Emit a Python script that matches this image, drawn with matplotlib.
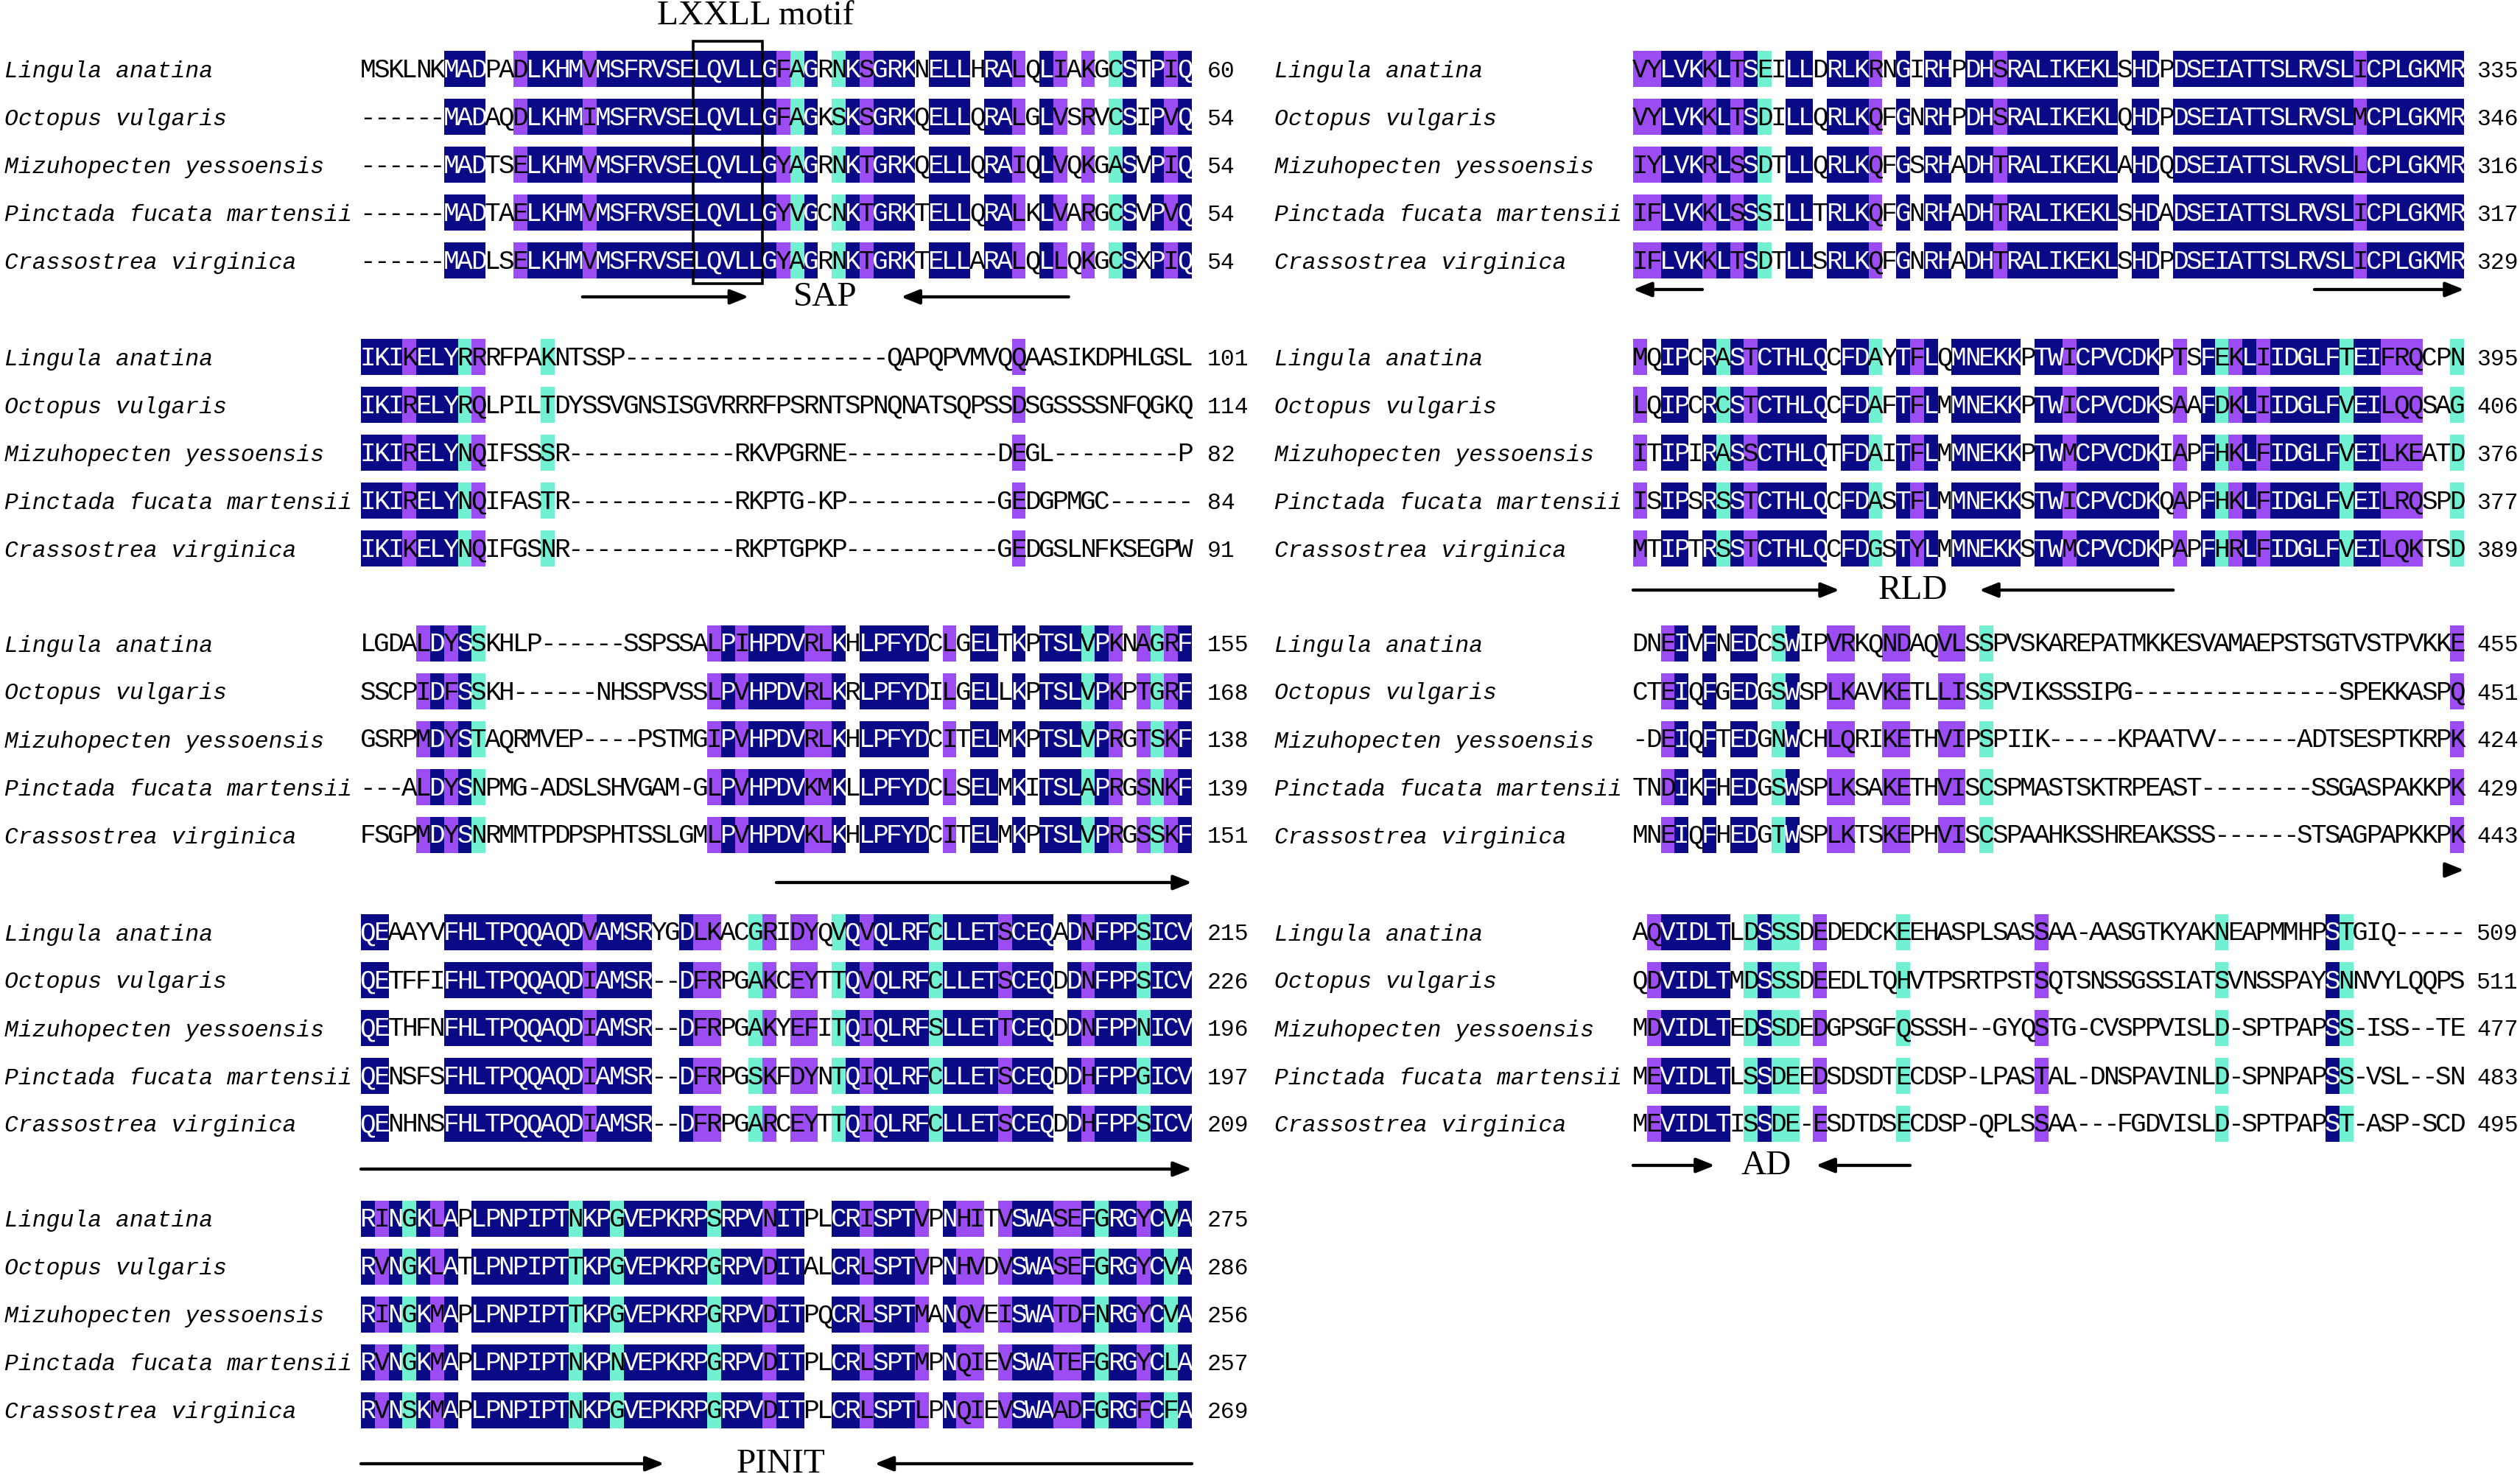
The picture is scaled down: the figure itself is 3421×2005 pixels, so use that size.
import matplotlib
matplotlib.use('Agg')
import matplotlib.pyplot as plt
from matplotlib.patches import Rectangle

names = ['Lingula anatina', 'Octopus vulgaris', 'Mizuhopecten yessoensis',
         'Pinctada fucata martensii', 'Crassostrea virginica']

# shading codes per column: N = identical, P = high homology, C = medium, . = none
seq_1 = ['MSKLNKMADPADLKHMVMSFRVSELQVLLGFAGRNKSGRKNELLHRALQLIAKGCSTPIQ',
         '------MADAQDLKHMIMSFRVSELQVLLGFAGKSKSGRKQELLQRALGLVSRVCSIPVQ',
         '------MADTSELKHMVMSFRVSELQVLLGYAGRNKTGRKQELLQRAIQLVQKGASVPIQ',
         '------MADTAELKHMVMSFRVSELQVLLGYVGCNKTGRKTELLQRALKLVARGCSVPVQ',
         '------MADLSELKHMVMSFRVSELQVLLGYAGRNKTGRKTELLARALQLLQKGCSXPIQ']
end_1 = [60, 54, 54, 54, 54]
shade_1 = '......NNN..PNNNNP' 'NNNNNNNNNNNNN' 'PCN.CNPNNN.NNN.NNP.NP.P.CN.NPN'

seq_2 = ['IKIKELYRRRFPAKNTSSP' + '-' * 19 + 'QAPQPVMVQQAASIKDPHLGSL',
         'IKIRELYRQLPILTDYSSVGNSISGVRRRFPSRNTSPNQNATSQPSSDSGSSSSNFQGKQ',
         'IKIRELYNQIFSSSR' + '-' * 12 + 'RKVPGRNE' + '-' * 11 + 'DEGL' + '-' * 9 + 'P',
         'IKIRELYNQIFASTR' + '-' * 12 + 'RKPTG-KP' + '-' * 11 + 'GEDGPMGC' + '-' * 6,
         'IKIKELYNQIFGSNR' + '-' * 12 + 'RKPTGPKP' + '-' * 11 + 'GEDGSLNFKSEGPW']
end_2 = [101, 114, 82, 84, 91]
shade_2 = 'NNNPNNNCP....C' + '.' * 33 + 'P' + '.' * 12

seq_3 = ['LGDALDYSSKHLP------SSPSSALPIHPDVRLKHLPFYDCLGELTKPTSLVPKNAGRF',
         'SSCPIDFSSKH------NHSSPVSSLPVHPDVRLKRLPFYDILGELLKPTSLVPKPTGRF',
         'GSRPMDYSTAQRMVEP----PSTMGIPVHPDVRLKHLPFYDCITELMKPTSLVPRGTSKF',
         '---ALDYSNPMG-ADSLSHVGAM-GLPVHPDVKMKLLPFYDCLSELMKITSLAPRGSNKF',
         'FSGPMDYSNRMMTPDPSPHTSSLGMLPVHPDVKLKHLPFYDCITELMKPTSLVPRGSSKF']
end_3 = [155, 168, 138, 139, 151]
shade_3 = '....PNPNC' + '.' * 16 + 'PNPNNNNPPN.NNNNN.P.NN.N.NNNCNP.PCPN'

seq_4 = ['QEAAYVFHLTPQQAQDVAMSRYGDLKACGRIDYQVQVQLRFCLLETSCEQADNFPPSICV',
         'QETFFIFHLTPQQAQDIAMSR--DFRPGAKCEYTTQVQLRFCLLETSCEQDDNFPPSICV',
         'QETHFNFHLTPQQAQDIAMSR--DFRPGAKYEFITQIQLRFSLLETTCEQDDNFPPNICV',
         'QENSFSFHLTPQQAQDIAMSR--DFRPGSKFDYNTQIQLRFCLLETSCEQDDHFPPGICV',
         'QENHNSFHLTPQQAQDIAMSR--DFRPGARCEYTTQIQLRFCLLETSCEQDDHFPPSICV']
end_4 = [215, 226, 196, 197, 209]
shade_4 = 'NN....' 'NNNNNNNNNN' 'PNNNN..NPP..CP.PP.CNPNNNNCNNNNPNNN.NPNNNCNNN'

seq_5 = ['RINGKLAPLPNPIPTNKPGVEPKRPSRPVNITPLCRISPTVPNHITVSWASEFGRGYCVA',
         'RVNGKLATLPNPIPTTKPGVEPKRPGRPVDITALCRLSPTVPNHVDVSWASEFGRGYCVA',
         'RINGKMAPLPNPIPTTKPGVEPKRPGRPVDITPQCRLSPTMANQVEISWATDFNRGYCVA',
         'RVNGKMAPLPNPIPTNKPNVEPKRPGRPVDITPLCRLSPTMPNQIEVSWATEFGRGYCLA',
         'RVNSKMAPLPNPIPTNKPGVEPKRPGRPVDITPLCRLSPTLPNQIEVSWAADFGRGFCFA']
end_5 = [275, 286, 256, 257, 269]
shade_5 = 'NPNCNPN.' 'NNNNNNN' 'CNNC' 'NNNNNN' 'CNNNP' 'NN..NNP' 'NNNP.NPP.P' 'NNNPPNCNNPNCN'

seq_6 = ['VYLVKKLTSEILLDRLKRNGIRHPDHSRALIKEKLSHDPDSEIATTSLRVSLICPLGKMR',
         'VYLVKKLTSDILLQRLKQFGNRHPDHSRALIKEKLQHDPDSEIATTSLRVSLMCPLGKMR',
         'IYLVKRLSSDTLLQRLKQFGSRHADHTRALIKEKLAHDQDSEIATTSLRVSLLCPLGKMR',
         'IFLVKKLSSSILLTRLKQFGNRHADHTRALIKEKLSHDADSEIATTSLRVSLICPLGKMR',
         'IFLVKKLTSDTLLSRLKQFGNRHADHTRALIKEKLSHDPDSEIATTSLRVSLICPLGKMR']
end_6 = [335, 346, 316, 317, 329]
shade_6 = 'PPNNNPNPNC.NN.NNNP.N.NN.NNP' 'NNNNNNNN' '.NN.' 'NNNNNNNNNNNNN' 'P' 'NNNNNNN'

seq_7 = ['MQIPCRASTCTHLQCFDAYTFLQMNEKKPTWICPVCDKPTSFEKLIIDGLFTEIFRQCPN',
         'LQIPCRCSTCTHLQCFDAFTFLMMNEKKPTWICPVCDKSAAFDKLIIDGLFVEILQQSAG',
         'ITIPIRASSCTHLQTFDAITFLMMNEKKPTWMCPVCDKIAPFHKLFIDGLFVEILKEATD',
         'ISIPSRSSTCTHLQCFDASTFLMMNEKKSTWICPVCDKQAPFHKLFIDGLFVEILRQSPD',
         'MTIPTRSSTCTHLQCFDGSTYLMMNEKKSTWMCPVCDKPAPFHRLFIDGLFVEILQKTSD']
end_7 = [395, 406, 376, 377, 389]
shade_7 = 'P.NN.NCNP' 'NNNNN' '.NNC.NPN.' 'NNNNN' '.NNP' 'NNNNNN' '.P.NCPNP' 'NNNNN' 'CNNPPP..C'

seq_8 = ['DNEIVFNEDCSWIPVRKQNDAQVLSSPVSKAREPATMKKESVAMAEPSTSGTVSTPVKKE',
         'CTEIQFGEDGSWSPLKAVKETLLISSPVIKSSSIPG' + '-' * 15 + 'SPEKKASPQ',
         '-DEIQFTEDGNWCHLQRIKETHVIPSPIIK-----KPAATVV------ADTSESPTKRPK',
         'TNDIKFHEDGSWSPLKSAKETHVISCSPMASTSKTRPEAST--------SSGASPAKKPK',
         'MNEIQFHEDGTWSPLKTSKEPHVISCSPAAHKSSHREAKSSS------STSAGPAPKKPK']
end_8 = [455, 451, 424, 429, 443]
shade_8 = '..PN.N.NN.CN..PP..PP..PP.C' + '.' * 33 + 'P'

seq_9 = ['AQVIDLTLDSSSDEDEDCKEEHASPLSASSAA-AASGTKYAKNEAPMMHPSTGIQ-----',
         'QDVIDLTMDSSSDEEDLTQHVTPSRTPSTSQTSNSSGSSIATSVNSSPAYSNNVYLQQPS',
         'MDVIDLTEDSSDEDGPSGFQSSSH--GYQSTG-CVSPPVISLD-SPTPAPSS-ISS--TE',
         'MEVIDLTLSSDEEDSDSDTECDSP-LPASTAL-DNSPAVINLD-SPNPAPSS-VSL--SN',
         'MEVIDLTISSDE-ESDTDSECDSP-QPLSSAA---FGDVISLD-SPTPAPST-ASP-SCD']
end_9 = [509, 511, 477, 483, 495]
shade_9 = '.PNNNNN.CNCC.P.....C' + '.' * 9 + 'P' + '.' * 12 + 'C' + '.' * 7 + 'NC' + '.' * 8

blocks = [(seq_1, shade_1, end_1), (seq_2, shade_2, end_2), (seq_3, shade_3, end_3),
          (seq_4, shade_4, end_4), (seq_5, shade_5, end_5), (seq_6, shade_6, end_6),
          (seq_7, shade_7, end_7), (seq_8, shade_8, end_8), (seq_9, shade_9, end_9)]

for s, sh, e in blocks:
    assert len(sh) == 60, sh
    for row in s:
        assert len(row) == 60, row

colors = {'N': '#0a0a86', 'P': '#9b4cf2', 'C': '#72f1d2'}

W, H = 3421, 2006
fig = plt.figure(figsize=(W / 100, H / 100), dpi=100)
ax = fig.add_axes([0, 0, 1, 1])
ax.set_xlim(0, W)
ax.set_ylim(H, 0)
ax.axis('off')

cell = 18.8
pitch = 65
band = 49
side_x = {'L': (6, 490, 1639), 'R': (1730, 2217, 3362)}
slot_y = [94, 485, 874, 1266, 1655]
place = [('L', 0), ('L', 1), ('L', 2), ('L', 3), ('L', 4),
         ('R', 0), ('R', 1), ('R', 2), ('R', 3)]

mono = 'Liberation Mono'
serif = 'Liberation Serif'
seq_fs = 26
name_fs = 22.6
base_off = 10.5

for (seqs, shade, ends), (side, slot) in zip(blocks, place):
    nx, x0, numx = side_x[side]
    for r, s in enumerate(seqs):
        y = slot_y[slot] + r * pitch
        ax.text(nx, y + base_off, names[r], family=mono, style='italic',
                fontsize=name_fs, va='baseline', ha='left')
        ax.text(numx, y + base_off, str(ends[r]), family=mono,
                fontsize=name_fs, va='baseline', ha='left')
        # shaded runs
        codes = [shade[c] if s[c] != '-' else '.' for c in range(len(s))]
        c = 0
        while c < len(codes):
            k = codes[c]
            n = 1
            while c + n < len(codes) and codes[c + n] == k:
                n += 1
            if k != '.':
                ax.bar(x0 + c * cell, band, width=n * cell, bottom=y - band / 2,
                       align='edge', color=colors[k], linewidth=0)
            c += n
        for c, ch in enumerate(s):
            ax.text(x0 + (c + 0.5) * cell, y + base_off, ch, family=mono,
                    fontsize=seq_fs, ha='center', va='baseline',
                    color='white' if codes[c] == 'N' else 'black')

# LXXLL motif box in first block
x0 = side_x['L'][1]
ax.add_patch(Rectangle((x0 + 24 * cell, 57), 5 * cell, 329, fill=False,
                       edgecolor='black', linewidth=2.6))
ax.text(x0 + 28.5 * cell, 22, 'LXXLL motif', family=serif, fontsize=34,
        ha='center', va='center')

# domain arrows: block, offset below last row, arrows (from col, to col), label, label col
notes = [
    (0, 50, [(16, 28), (51.1, 39)], 'SAP', 33.5),
    (2, 65, [(30, 60)], None, None),
    (3, 62, [(0, 60)], None, None),
    (4, 73, [(0, 21.9), (60, 37.1)], 'PINIT', 30.3),
    (5, 40, [(5, 0), (49.2, 60)], None, None),
    (6, 57, [(0, 14.9), (39, 25)], 'RLD', 20.2),
    (7, 48, [(58.8, 60)], None, None),
    (8, 57, [(0, 5.9), (20, 13.2)], 'AD', 9.6),
]
for b, dy, arrows, label, lc in notes:
    side, slot = place[b]
    x0 = side_x[side][1]
    y = slot_y[slot] + 4 * pitch + dy
    for a, z in arrows:
        ax.annotate('', xy=(x0 + z * cell, y), xytext=(x0 + a * cell, y),
                    arrowprops=dict(arrowstyle='-|>,head_length=0.75,head_width=0.3',
                                    mutation_scale=20, lw=3.1, color='black',
                                    shrinkA=0, shrinkB=0))
    if label:
        ax.text(x0 + lc * cell, y, label, family=serif, fontsize=34,
                ha='center', va='center')

fig.savefig('out.png', dpi=100, facecolor='white')
